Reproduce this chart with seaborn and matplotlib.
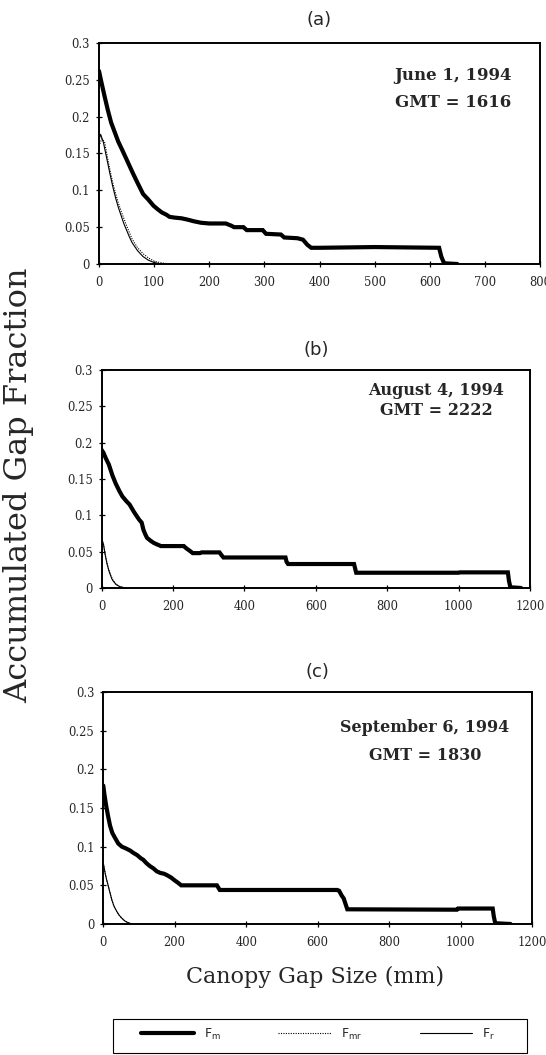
import matplotlib
matplotlib.use("Agg")
import matplotlib.pyplot as plt
import seaborn as sns
from matplotlib.lines import Line2D
from matplotlib.patches import Rectangle

# ---------------- data ----------------
# Panel (a)  June 1, 1994
a_m_x = [0, 4, 10, 16, 22, 29, 35, 42, 50, 61, 70, 80, 90, 99, 107, 114, 122, 128, 137, 150,
         162, 172, 185, 200, 230, 240, 245, 262, 268, 297, 303, 330, 336, 360, 370, 378, 385,
         400, 500, 617, 621, 626, 650]
a_m_y = [0.262, 0.248, 0.228, 0.209, 0.192, 0.178, 0.166, 0.155, 0.142, 0.124, 0.110, 0.095,
         0.087, 0.079, 0.074, 0.070, 0.067, 0.064, 0.063, 0.062, 0.060, 0.058, 0.056, 0.055,
         0.055, 0.052, 0.050, 0.050, 0.046, 0.046, 0.041, 0.040, 0.036, 0.035, 0.033, 0.026,
         0.022, 0.022, 0.023, 0.022, 0.010, 0.001, 0.0]
a_r_x = [0, 3, 8, 15, 20, 25, 30, 35, 40, 45, 50, 55, 60, 70, 80, 90, 100, 110, 120]
a_r_y = [0.168, 0.176, 0.165, 0.140, 0.122, 0.105, 0.090, 0.077, 0.066, 0.055, 0.046, 0.037,
         0.029, 0.018, 0.010, 0.005, 0.002, 0.0005, 0.0]
a_mr_x = [0, 5, 10, 15, 20, 25, 30, 35, 40, 45, 50, 55, 60, 70, 80, 90, 100, 110, 120, 130]
a_mr_y = [0.160, 0.170, 0.166, 0.146, 0.127, 0.110, 0.096, 0.083, 0.072, 0.062, 0.052, 0.043,
          0.034, 0.022, 0.014, 0.008, 0.004, 0.002, 0.0008, 0.0]

# Panel (b)  August 4, 1994
b_m_x = [0, 5, 12, 20, 30, 39, 50, 58, 70, 78, 90, 98, 105, 112, 117, 122, 127, 137, 146, 155,
         166, 230, 236, 250, 255, 275, 280, 330, 336, 341, 515, 518, 522, 707, 710, 713, 1000,
         1003, 1138, 1141, 1145, 1175]
b_m_y = [0.190, 0.186, 0.178, 0.170, 0.155, 0.144, 0.133, 0.126, 0.119, 0.115, 0.105, 0.099,
         0.094, 0.090, 0.080, 0.074, 0.069, 0.065, 0.062, 0.060, 0.0577, 0.0577, 0.055, 0.050,
         0.048, 0.048, 0.049, 0.049, 0.045, 0.042, 0.042, 0.036, 0.033, 0.033, 0.027, 0.021,
         0.021, 0.0215, 0.0215, 0.010, 0.001, 0.0]
b_r_x = [0, 5, 10, 15, 20, 25, 30, 40, 50, 60, 70]
b_r_y = [0.068, 0.060, 0.045, 0.033, 0.024, 0.017, 0.011, 0.005, 0.002, 0.0007, 0.0]
b_mr_x = [0, 5, 10, 15, 20, 25, 30, 40, 50, 60, 70]
b_mr_y = [0.067, 0.060, 0.046, 0.034, 0.025, 0.018, 0.012, 0.005, 0.002, 0.0008, 0.0]

# Panel (c)  September 6, 1994
c_m_x = [0, 3, 8, 14, 19, 25, 32, 42, 52, 62, 75, 84, 95, 105, 112, 120, 130, 140, 150, 160,
         170, 179, 190, 198, 210, 218, 228, 318, 322, 326, 655, 660, 667, 673, 678, 683, 990,
         993, 1090, 1093, 1097, 1140]
c_m_y = [0.179, 0.168, 0.153, 0.138, 0.127, 0.118, 0.112, 0.104, 0.100, 0.098, 0.095, 0.092,
         0.089, 0.085, 0.083, 0.079, 0.075, 0.072, 0.068, 0.066, 0.065, 0.063, 0.060, 0.057,
         0.053, 0.050, 0.050, 0.050, 0.047, 0.044, 0.044, 0.043, 0.037, 0.033, 0.026, 0.019,
         0.0185, 0.020, 0.020, 0.010, 0.001, 0.0]
c_r_x = [0, 5, 10, 14, 19, 24, 30, 38, 45, 52, 60, 68, 80]
c_r_y = [0.079, 0.066, 0.056, 0.049, 0.040, 0.031, 0.023, 0.016, 0.011, 0.0074, 0.004, 0.002, 0.0]
c_mr_x = [0, 5, 10, 14, 19, 24, 30, 38, 45, 52, 60, 68, 80]
c_mr_y = [0.078, 0.066, 0.056, 0.049, 0.040, 0.031, 0.023, 0.016, 0.011, 0.0075, 0.004, 0.002, 0.0]

y_ticks = [0, 0.05, 0.1, 0.15, 0.2, 0.25, 0.3]
y_tick_labels = ["0", "0.05", "0.1", "0.15", "0.2", "0.25", "0.3"]
a_x_ticks = [0, 100, 200, 300, 400, 500, 600, 700, 800]
bc_x_ticks = [0, 200, 400, 600, 800, 1000, 1200]

panel_titles = ["(a)", "(b)", "(c)"]
dates = ["June 1, 1994", "August 4, 1994", "September 6, 1994"]
gmts = ["GMT = 1616", "GMT = 2222", "GMT = 1830"]
series_labels = [r"F$_\mathregular{m}$", r"F$_\mathregular{mr}$", r"F$_\mathregular{r}$"]

# ---------------- figure ----------------
sns.set_theme(style="white")
plt.rcParams["font.family"] = ["DejaVu Serif"]

W, H = 546, 1055
fig = plt.figure(figsize=(W / 100, H / 100), dpi=100)
fig.patch.set_facecolor("white")

def rect(l, r, t, b):
    return [l / W, 1 - b / H, (r - l) / W, (b - t) / H]

axes_px = [(99, 540, 43, 264), (101.7, 530, 370, 588), (103.3, 532, 692, 924)]
title_y = [20, 350, 672]
ann = [(0.803, 0.855, 0.729, 12), (0.781, 0.908, 0.812, 11.5), (0.750, 0.849, 0.728, 11.5)]

panels = [
    (a_m_x, a_m_y, a_mr_x, a_mr_y, a_r_x, a_r_y, 800, a_x_ticks),
    (b_m_x, b_m_y, b_mr_x, b_mr_y, b_r_x, b_r_y, 1200, bc_x_ticks),
    (c_m_x, c_m_y, c_mr_x, c_mr_y, c_r_x, c_r_y, 1200, bc_x_ticks),
]

for i, (mx, my, mrx, mry, rx, ry, xmax, xt) in enumerate(panels):
    l, r, t, b = axes_px[i]
    ax = fig.add_axes(rect(l, r, t, b))
    sns.lineplot(x=rx, y=ry, ax=ax, color="black", lw=0.8, estimator=None, sort=False)
    sns.lineplot(x=mrx, y=mry, ax=ax, color="black", lw=0.8, linestyle=(0, (1, 1.2)),
                 estimator=None, sort=False)
    sns.lineplot(x=mx, y=my, ax=ax, color="black", lw=3.0, estimator=None, sort=False,
                 solid_joinstyle="miter")
    ax.set_xlim(0, xmax)
    ax.set_ylim(0, 0.3)
    ax.set_xticks(xt)
    ax.set_xticklabels([str(v) for v in xt], fontsize=8.3)
    ax.set_yticks(y_ticks)
    ax.set_yticklabels(y_tick_labels, fontsize=8.3)
    ax.tick_params(direction="inout", length=5, width=0.9, color="black", pad=4,
                   bottom=True, left=True)
    ax.tick_params(axis="x", pad=6)
    for s in ax.spines.values():
        s.set_color("black")
        s.set_linewidth(1.4)
    ax.set_xlabel("")
    ax.set_ylabel("")
    ax.grid(False)
    ax.set_facecolor("white")
    xc, y1, y2, fs = ann[i]
    ax.text(xc, y1, dates[i], transform=ax.transAxes, ha="center", va="center",
            fontsize=fs, fontweight="bold")
    ax.text(xc, y2, gmts[i], transform=ax.transAxes, ha="center", va="center",
            fontsize=fs, fontweight="bold")
    fig.text((l + r) / 2 / W, 1 - title_y[i] / H, panel_titles[i], ha="center", va="center",
             fontsize=13, family=["DejaVu Sans"])

fig.text(19 / W, 1 - 485 / H, "Accumulated Gap Fraction", rotation=90, ha="center",
         va="center", fontsize=23)
fig.text(315 / W, 1 - 977 / H, "Canopy Gap Size (mm)", ha="center", va="center", fontsize=16)

# legend
handles = [Line2D([], [], color="black", lw=3.0),
           Line2D([], [], color="black", lw=0.8, linestyle=(0, (1, 1.2))),
           Line2D([], [], color="black", lw=0.8)]
leg = fig.legend(handles, series_labels, loc="center", ncol=3,
                 bbox_to_anchor=(318 / W, 1 - 1034 / H), frameon=False,
                 handlelength=4.2, handletextpad=0.8, columnspacing=4.6,
                 prop={"family": "DejaVu Sans", "size": 9})
fig.patches.append(Rectangle((113 / W, 1 - 1053 / H), (527 - 113) / W, (1053 - 1019) / H,
                             transform=fig.transFigure, fill=False, edgecolor="black",
                             lw=0.8))

fig.savefig("out.png", dpi=100, facecolor="white")
